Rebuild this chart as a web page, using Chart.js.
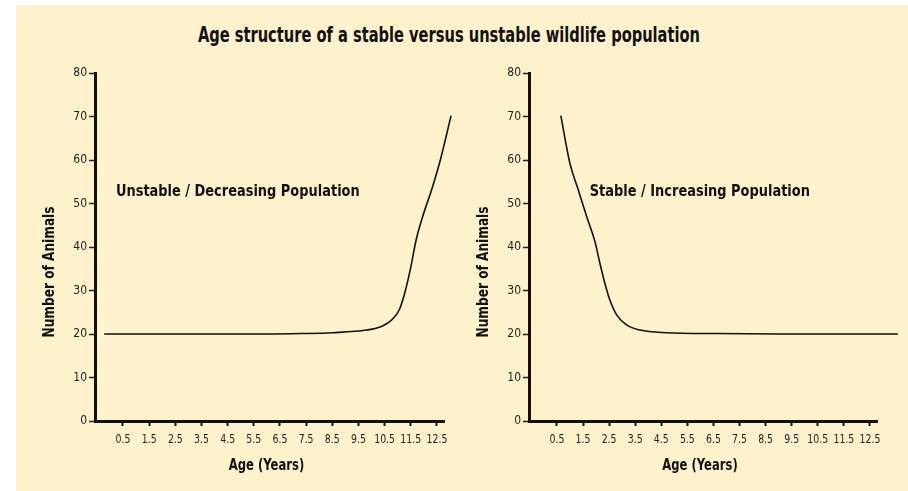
<!DOCTYPE html>
<html lang="en">
<head>
<meta charset="UTF-8">
<title>Age structure of a stable versus unstable wildlife population</title>
<script src="https://cdn.jsdelivr.net/npm/chart.js"></script>
<style>
  body { margin: 0; background: #fff; width: 908px; height: 491px; overflow: hidden; position: relative; }
  #panel { position: absolute; left: 16px; top: 5px; width: 892px; height: 486px; background: #fdf2cb; }
  h1 { position: absolute; left: 0; top: 23px; width: 898px; margin: 0; text-align: center;
       font: bold 21px 'DejaVu Sans Condensed', sans-serif; color: #111; }
  h1 span { display: inline-block; transform: scaleX(0.775); white-space: nowrap; }
  .box { position: absolute; top: 60px; height: 430px; }
  #left { left: 0; width: 460px; }
  #right { left: 434px; width: 474px; }
</style>
</head>
<body>
<div id="panel"></div>
<h1><span>Age structure of a stable versus unstable wildlife population</span></h1>
<div class="box" id="left"><canvas id="chartLeft"></canvas></div>
<div class="box" id="right"><canvas id="chartRight"></canvas></div>
<script>
// tick labels on the x axis (ages)
var ageTicks = [0.5, 1.5, 2.5, 3.5, 4.5, 5.5, 6.5, 7.5, 8.5, 9.5, 10.5, 11.5, 12.5];

// unstable / decreasing population
var unstableAge = [-0.22, 2, 4, 6, 7.3, 8.5, 9.8, 10.4, 10.8, 11.07, 11.26, 11.5, 11.7, 11.95, 12.33, 12.66, 13.04];
var unstableCount = [20, 20, 20, 20, 20.1, 20.3, 20.9, 21.8, 23.4, 25.7, 29.2, 35.3, 41.5, 46.9, 53.8, 60.7, 70.2];

// stable / increasing population
var stableAge = [0.65, 1.0, 1.32, 1.64, 1.96, 2.15, 2.34, 2.53, 2.79, 3.17, 3.68, 4.7, 6.6, 9, 11, 13.57];
var stableCount = [70.2, 59.2, 53.1, 47, 41.2, 36.2, 31.6, 27.8, 24.4, 22.1, 20.9, 20.3, 20.1, 20, 20, 20];

var FONT = "'DejaVu Sans Condensed', sans-serif";

function pts(xs, ys) {
    var out = [];
    for (var i = 0; i < xs.length; i++) out.push({ x: xs[i], y: ys[i] });
    return out;
}

// narrow text: the original uses a condensed face, so squeeze horizontally
function squeezed(ctx, text, x, y, sx, rot) {
    ctx.save();
    ctx.translate(x, y);
    if (rot) ctx.rotate(rot);
    ctx.scale(sx, 1);
    ctx.fillText(text, 0, 0);
    ctx.restore();
}

// x tick labels, axis titles and the panel label
var extraText = {
    id: 'extraText',
    afterDraw: function (chart, args, opts) {
        var ctx = chart.ctx, a = chart.chartArea;
        var sx = chart.scales.x, sy = chart.scales.y;
        ctx.save();
        ctx.fillStyle = '#222';
        ctx.textBaseline = 'middle';
        ctx.textAlign = 'center';
        ctx.font = '13px ' + FONT;
        sx.ticks.forEach(function (t) {
            squeezed(ctx, String(t.value), sx.getPixelForValue(t.value), a.bottom + 19, 0.8);
        });

        ctx.fillStyle = '#111';
        ctx.font = 'bold 15px ' + FONT;
        squeezed(ctx, 'Age (Years)', (a.left + a.right) / 2 - 3, a.bottom + 45, 0.86);
        squeezed(ctx, 'Number of Animals', 50, (a.top + a.bottom) / 2 + 25, 0.9, -Math.PI / 2);

        ctx.textAlign = 'left';
        squeezed(ctx, opts.label, sx.getPixelForValue(opts.labelX), sy.getPixelForValue(opts.labelY), 0.96);
        ctx.restore();
    }
};

function makeChart(id, data, padRight, label, labelX) {
    return new Chart(document.getElementById(id), {
        type: 'line',
        data: {
            datasets: [{
                data: data,
                borderColor: '#111',
                borderWidth: 1.6,
                pointRadius: 0,
                tension: 0.4,
                cubicInterpolationMode: 'monotone',
                clip: false
            }]
        },
        options: {
            responsive: true,
            maintainAspectRatio: false,
            animation: false,
            events: [],
            layout: { padding: { top: 13, right: padRight, bottom: 0, left: 0 } },
            plugins: {
                legend: { display: false },
                tooltip: { enabled: false },
                extraText: { label: label, labelX: labelX, labelY: 52.6 }
            },
            scales: {
                x: {
                    type: 'linear',
                    min: -0.57,
                    max: 12.77,
                    afterBuildTicks: function (s) { s.ticks = ageTicks.map(function (v) { return { value: v }; }); },
                    afterFit: function (s) { s.height = 69; },
                    border: { color: '#111', width: 3 },
                    grid: { drawOnChartArea: false, tickLength: 5, tickWidth: 2, tickColor: '#111' },
                    ticks: { display: false }
                },
                y: {
                    min: 0,
                    max: 80,
                    afterFit: function (s) { s.width = 95; },
                    border: { color: '#111', width: 3 },
                    grid: { drawOnChartArea: false, tickLength: 6, tickWidth: 1.5, tickColor: '#222' },
                    ticks: { stepSize: 10, color: '#222', padding: 2, font: { family: FONT, size: 12 } }
                }
            }
        },
        plugins: [extraText]
    });
}

makeChart('chartLeft', pts(unstableAge, unstableCount), 16, 'Unstable / Decreasing Population', 0.23);
makeChart('chartRight', pts(stableAge, stableCount), 31, 'Stable / Increasing Population', 1.76);
</script>
</body>
</html>
